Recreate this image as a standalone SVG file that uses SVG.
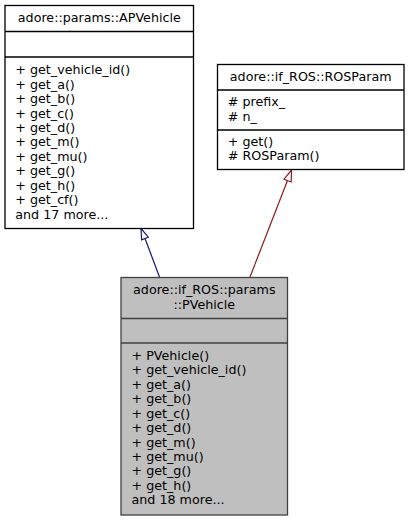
<svg xmlns="http://www.w3.org/2000/svg" width="410" height="521" viewBox="0 0 410 521">
<style>
text{font-family:"DejaVu Sans",sans-serif;font-size:12.7px;fill:#000}
.box{fill:#fff;stroke:#000;stroke-width:1.3}
.sel{fill:#bfbfbf;stroke:#404040;stroke-width:1.3}
.sep{stroke:#000;stroke-width:1.3}
.sep2{stroke:#404040;stroke-width:1.3}
.c{text-anchor:middle}
</style>
<rect width="410" height="521" fill="#fff"/>
<g id="connectors">
<path d="M159.5,277 L145,238.5" stroke="#191970" stroke-width="1.2" fill="none"/>
<polygon points="141,228.5 148.3,237.2 141.6,239.8" fill="#fff" stroke="#191970" stroke-width="1.2"/>
<path d="M250,277 L287.5,180.5" stroke="#8b1a1a" stroke-width="1.2" fill="none"/>
<polygon points="291.5,170 291.2,182 284,179.2" fill="#fff" stroke="#8b1a1a" stroke-width="1.2"/>
</g>
<g id="APVehicle">
<rect class="box" x="5" y="5.5" width="188.5" height="223"/>
<line class="sep" x1="5" y1="31.5" x2="193.5" y2="31.5"/>
<line class="sep" x1="5" y1="57" x2="193.5" y2="57"/>
<text class="c" x="99.3" y="22.2">adore::params::APVehicle</text>
<text x="15.3" y="74.2">+ get_vehicle_id()</text>
<text x="15.3" y="88.65">+ get_a()</text>
<text x="15.3" y="103.1">+ get_b()</text>
<text x="15.3" y="117.55">+ get_c()</text>
<text x="15.3" y="132">+ get_d()</text>
<text x="15.3" y="146.45">+ get_m()</text>
<text x="15.3" y="160.9">+ get_mu()</text>
<text x="15.3" y="175.35">+ get_g()</text>
<text x="15.3" y="189.8">+ get_h()</text>
<text x="15.3" y="204.25">+ get_cf()</text>
<text x="15.3" y="218.7">and 17 more...</text>
</g>
<g id="ROSParam">
<rect class="box" x="217.5" y="64.5" width="186.5" height="105"/>
<line class="sep" x1="217.5" y1="90" x2="404" y2="90"/>
<line class="sep" x1="217.5" y1="130" x2="404" y2="130"/>
<text class="c" x="310.7" y="80.8">adore::if_ROS::ROSParam</text>
<text x="227.8" y="106"># prefix_</text>
<text x="227.8" y="120.5"># n_</text>
<text x="227.8" y="145.8">+ get()</text>
<text x="227.8" y="160.3"># ROSParam()</text>
</g>
<g id="PVehicle">
<rect class="sel" x="121" y="277.5" width="166.5" height="237.5"/>
<line class="sep2" x1="121" y1="318.5" x2="287.5" y2="318.5"/>
<line class="sep2" x1="121" y1="343" x2="287.5" y2="343"/>
<text class="c" x="204.3" y="294.4">adore::if_ROS::params</text>
<text class="c" x="204.3" y="308.8">::PVehicle</text>
<text x="131.5" y="359.8">+ PVehicle()</text>
<text x="131.5" y="374.25">+ get_vehicle_id()</text>
<text x="131.5" y="388.7">+ get_a()</text>
<text x="131.5" y="403.15">+ get_b()</text>
<text x="131.5" y="417.6">+ get_c()</text>
<text x="131.5" y="432.05">+ get_d()</text>
<text x="131.5" y="446.5">+ get_m()</text>
<text x="131.5" y="460.95">+ get_mu()</text>
<text x="131.5" y="475.4">+ get_g()</text>
<text x="131.5" y="489.85">+ get_h()</text>
<text x="131.5" y="504.3">and 18 more...</text>
</g>
</svg>
